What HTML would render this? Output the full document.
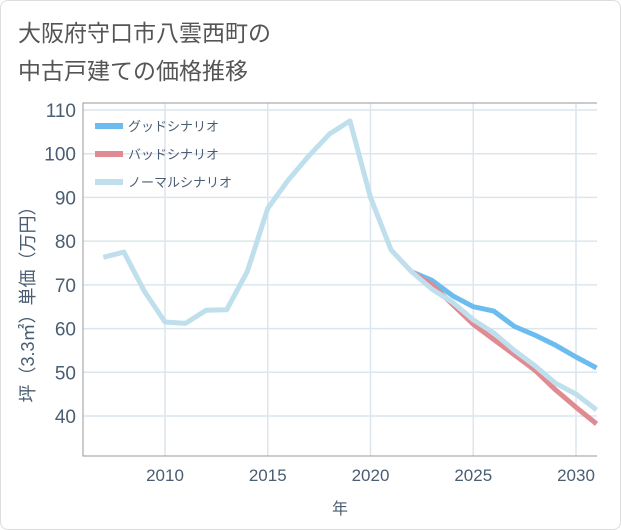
<!DOCTYPE html>
<html><head><meta charset="utf-8"><style>
body{margin:0;background:#fff;font-family:"Liberation Sans","Noto Sans CJK JP",sans-serif;}
#wrap{position:relative;width:619px;height:528px;border:1px solid #ddd;border-radius:8px;overflow:hidden;}
</style></head><body>
<div id="wrap">
<svg id="c" width="621" height="530" style="position:absolute;left:-1px;top:-1px">
<text x="18" y="41" font-size="23" fill="#555">大阪府守口市八雲西町の</text>
<text x="18" y="79" font-size="23" fill="#555">中古戸建ての価格推移</text>
</svg>
</div>
<script>
const years=[2007,2008,2009,2010,2011,2012,2013,2014,2015,2016,2017,2018,2019,2020,2021,2022,2023,2024,2025,2026,2027,2028,2029,2030,2031];
const normal=[76.3,77.5,68.5,61.5,61.2,64.2,64.3,73,87.5,94,99.5,104.5,107.5,90,78,73,69,66,62,59,55,51.5,47.5,45,41.4];
const futYears=[2022,2023,2024,2025,2026,2027,2028,2029,2030,2031];
const good=[73,71,67.5,65,64,60.5,58.5,56.2,53.5,51];
const bad=[73,70,65.5,61,57.5,54,50.5,46,42,38.2];
const yTicks=[40,50,60,70,80,90,100,110];
const xTicks=[2010,2015,2020,2025,2030];
const NS="http://www.w3.org/2000/svg",svg=document.getElementById('c');
const L=83,R=597,T=103,B=456;
const xs=v=>165+(v-2010)*(576-165)/20;
const ys=v=>416-(v-40)*(306/70);
function el(t,a,p){const e=document.createElementNS(NS,t);for(const k in a)e.setAttribute(k,a[k]);(p||svg).appendChild(e);return e;}
const bg=el('rect',{x:L,y:T,width:R-L,height:B-T,fill:'#fff',stroke:'none'});


yTicks.forEach(v=>{const g=el('line',{x1:L,x2:R,y1:ys(v),y2:ys(v),stroke:'#dce6ee','stroke-width':1.5});


const t=el('text',{x:L-7,y:ys(v)+7,'text-anchor':'end','font-size':19,fill:'#4a5d72'});t.textContent=v;

});
xTicks.forEach(v=>{const g=el('line',{x1:xs(v),x2:xs(v),y1:T,y2:B,stroke:'#dce6ee','stroke-width':1.5});


const t=el('text',{x:xs(v),y:B+25,'text-anchor':'middle','font-size':17,fill:'#4a5d72'});t.textContent=v;

});
const ax=el('path',{d:`M${R} ${T}H${L}V${B}H${R}`,fill:'none',stroke:'#999','stroke-width':1});


function line(xv,yv,col,name){const p=el('polyline',{points:xv.map((x,i)=>xs(x)+','+ys(yv[i])).join(' '),fill:'none',stroke:col,'stroke-width':5,'stroke-linejoin':'round'});

}
line(futYears,good,'#6cbcf0','good-scenario-line');
line(futYears,bad,'#e08a92','bad-scenario-line');
line(years,normal,'#bfdfec','normal-scenario-line');
const leg=[['グッドシナリオ','#6cbcf0'],['バッドシナリオ','#e08a92'],['ノーマルシナリオ','#bfdfec']];
leg.forEach((d,i)=>{const y=126+i*28;
const s=el('line',{x1:95,x2:123,y1:y,y2:y,stroke:d[1],'stroke-width':6});


const t=el('text',{x:128,y:y+5,'font-size':13,fill:'#4a5d72'});t.textContent=d[0];

});
const xt=el('text',{x:340,y:514,'text-anchor':'middle','font-size':16,fill:'#4a5d72'});xt.textContent='年';


const yt=el('text',{x:0,y:0,'text-anchor':'middle','font-size':18,fill:'#4a5d72',transform:'translate(34,300) rotate(-90)'});yt.textContent='坪（3.3㎡）単価（万円）';


</script>
</body></html>
